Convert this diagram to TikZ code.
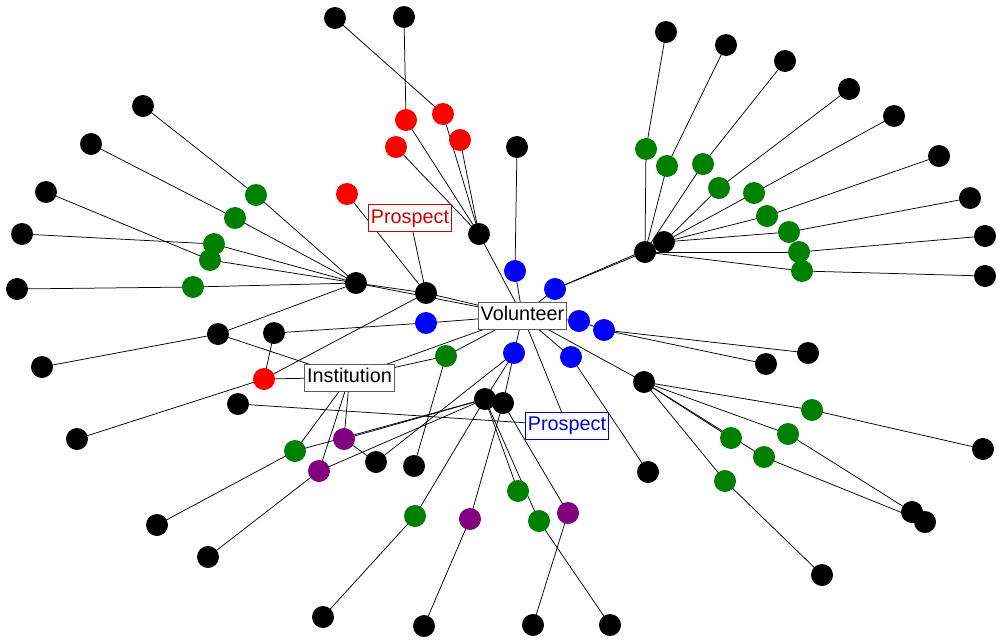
\documentclass[tikz,border=0pt]{standalone}
\usepackage{fontspec}
\setmainfont{Liberation Sans}
\usetikzlibrary{backgrounds}
\definecolor{pcol}{RGB}{128,0,128}
\definecolor{gcol}{RGB}{0,128,0}
\definecolor{labgray}{RGB}{90,90,90}
\definecolor{labred}{RGB}{204,0,0}
\definecolor{labblue}{RGB}{0,0,204}
\tikzset{
  vtx/.style={circle, minimum size=22pt, inner sep=0pt, draw=none},
  bk/.style={vtx, fill=black},
  rd/.style={vtx, fill=red},
  gn/.style={vtx, fill=gcol},
  bl/.style={vtx, fill=blue},
  pu/.style={vtx, fill=pcol},
  lab/.style={draw=#1, fill=white, line width=0.8pt, inner xsep=2.5pt, inner ysep=0pt,
     minimum height=27pt, text height=14.5pt, text depth=4pt,
     font=\fontsize{19.8}{22}\selectfont},
  edge/.style={draw=black, line width=0.75pt}
}
\begin{document}
\begin{tikzpicture}[x=1pt,y=-1pt]
\useasboundingbox (0,0) rectangle (1005,643);
% labels
\node[lab=labgray] (vol) at (522.5,315.5) {Volunteer};
\node[lab=labgray] (inst) at (349.5,377.5) {Institution};
\node[lab=labred, text=labred] (pr) at (410,218) {Prospect};
\node[lab=labblue, text=labblue] (pb) at (567,425.5) {Prospect};
% black
\node[bk] (b1) at (335,18) {};
\node[bk] (b2) at (404,17) {};
\node[bk] (x) at (479,234) {};
\node[bk] (b3) at (143,106) {};
\node[bk] (b4) at (91,144) {};
\node[bk] (b5) at (46,192) {};
\node[bk] (b6) at (22,234) {};
\node[bk] (b7) at (17,289) {};
\node[bk] (hl) at (356,283) {};
\node[bk] (y) at (426,293) {};
\node[bk] (b8) at (517,147) {};
\node[bk] (b9) at (218,334) {};
\node[bk] (b10) at (274,333) {};
\node[bk] (b11) at (42,367) {};
\node[bk] (p1) at (485,399) {};
\node[bk] (p2) at (503,403) {};
\node[bk] (b12) at (238,404) {};
\node[bk] (b13) at (77,439) {};
\node[bk] (b14) at (376,462) {};
\node[bk] (b15) at (414,466) {};
\node[bk] (b16) at (157,525) {};
\node[bk] (b17) at (208,557) {};
\node[bk] (b18) at (323,617) {};
\node[bk] (b19) at (424,626) {};
\node[bk] (b20) at (808,353) {};
\node[bk] (b21) at (766,364) {};
\node[bk] (hr) at (644,382) {};
\node[bk] (b22) at (648,472) {};
\node[bk] (b23) at (983,449) {};
\node[bk] (b24) at (912,512) {};
\node[bk] (b25) at (925,522) {};
\node[bk] (b26) at (822,575) {};
\node[bk] (b27) at (533,625) {};
\node[bk] (b28) at (610,625) {};
\node[bk] (b29) at (666,32) {};
\node[bk] (b30) at (726,45) {};
\node[bk] (b31) at (785,61) {};
\node[bk] (b32) at (849,89) {};
\node[bk] (b33) at (894,116) {};
\node[bk] (b34) at (939,156) {};
\node[bk] (b35) at (970,198) {};
\node[bk] (b36) at (985,236) {};
\node[bk] (b37) at (985,276) {};
\node[bk] (h1) at (645,252) {};
\node[bk] (h2) at (664,242) {};
% red
\node[rd] (r1) at (406,120) {};
\node[rd] (r2) at (443,114) {};
\node[rd] (r3) at (460,140) {};
\node[rd] (r4) at (396,147) {};
\node[rd] (r5) at (347,194) {};
\node[rd] (r6) at (264,379) {};
% green
\node[gn] (g1) at (256,195) {};
\node[gn] (g2) at (235,218) {};
\node[gn] (g3) at (214,244) {};
\node[gn] (g4) at (210,260) {};
\node[gn] (g5) at (193,287) {};
\node[gn] (g6) at (446,356) {};
\node[gn] (g7) at (295,451) {};
\node[gn] (g8) at (518,491) {};
\node[gn] (g9) at (415,516) {};
\node[gn] (g10) at (539,521) {};
\node[gn] (g11) at (812,410) {};
\node[gn] (g12) at (731,438) {};
\node[gn] (g13) at (788,434) {};
\node[gn] (g14) at (764,457) {};
\node[gn] (g15) at (725,481) {};
\node[gn] (g16) at (646,149) {};
\node[gn] (g17) at (667,166) {};
\node[gn] (g18) at (703,164) {};
\node[gn] (g19) at (719,188) {};
\node[gn] (g20) at (754,193) {};
\node[gn] (g21) at (767,216) {};
\node[gn] (g22) at (789,232) {};
\node[gn] (g23) at (799,252) {};
\node[gn] (g24) at (802,271) {};
% blue
\node[bl] (ut) at (515,271) {};
\node[bl] (ur) at (555,289) {};
\node[bl] (ul) at (426,323) {};
\node[bl] (ubb) at (514,353) {};
\node[bl] (ur1) at (579,321) {};
\node[bl] (ur2) at (604,330) {};
\node[bl] (ubr) at (571,357) {};
% purple
\node[pu] (u1) at (344,439) {};
\node[pu] (u2) at (319,471) {};
\node[pu] (u3) at (470,519) {};
\node[pu] (u4) at (568,513) {};
\begin{pgfonlayer}{background}
\foreach \a/\b in {b1/r2, b2/r1, r1/x, r2/x, r3/x, r4/x, x/vol, r5/y, pr/y, y/vol, hl/vol, hl/y, y/r6,
  b3/g1, g1/hl, b4/g2, g2/hl, b5/g4, g4/hl, b6/g3, g3/hl, b7/g5, g5/hl, hl/b9,
  b8/ut, ut/vol, b11/b9, b9/inst, b10/ul, ul/vol, b10/r6, r6/inst, b13/r6,
  inst/vol, inst/g6, g6/vol, g6/b15, b12/pb, inst/g7, inst/u2, inst/u1,
  g7/b16, g7/p1, u1/p1, u1/b14, b14/ubb, u2/p1, u2/b17, p1/g9, g9/b18, p2/u3, u3/b19,
  p1/g8, p1/g10, p2/u4, u4/b27, g10/b28,
  vol/ubb, ubb/p1, ubb/p2, vol/pb,
  vol/ubr, ubr/b22, vol/hr, hr/g11, g11/b23, hr/g13, g13/b24, hr/g12, hr/g14, g14/b25, hr/g15, g15/b26,
  vol/ur1, ur1/ur2, ur2/b20, ur2/b21, vol/ur, ur/h1, ur/h2,
  b29/g16, g16/h1, b30/g17, g17/h1, b31/g18, g18/h1, b32/g19, g19/h2, b33/g20, g20/h2,
  b34/g21, g21/h2, b35/g22, g22/h2, b36/g23, g23/h1, b37/g24, g24/h1}
  { \draw[edge] (\a.center) -- (\b.center); }
\end{pgfonlayer}
\end{tikzpicture}
\end{document}
